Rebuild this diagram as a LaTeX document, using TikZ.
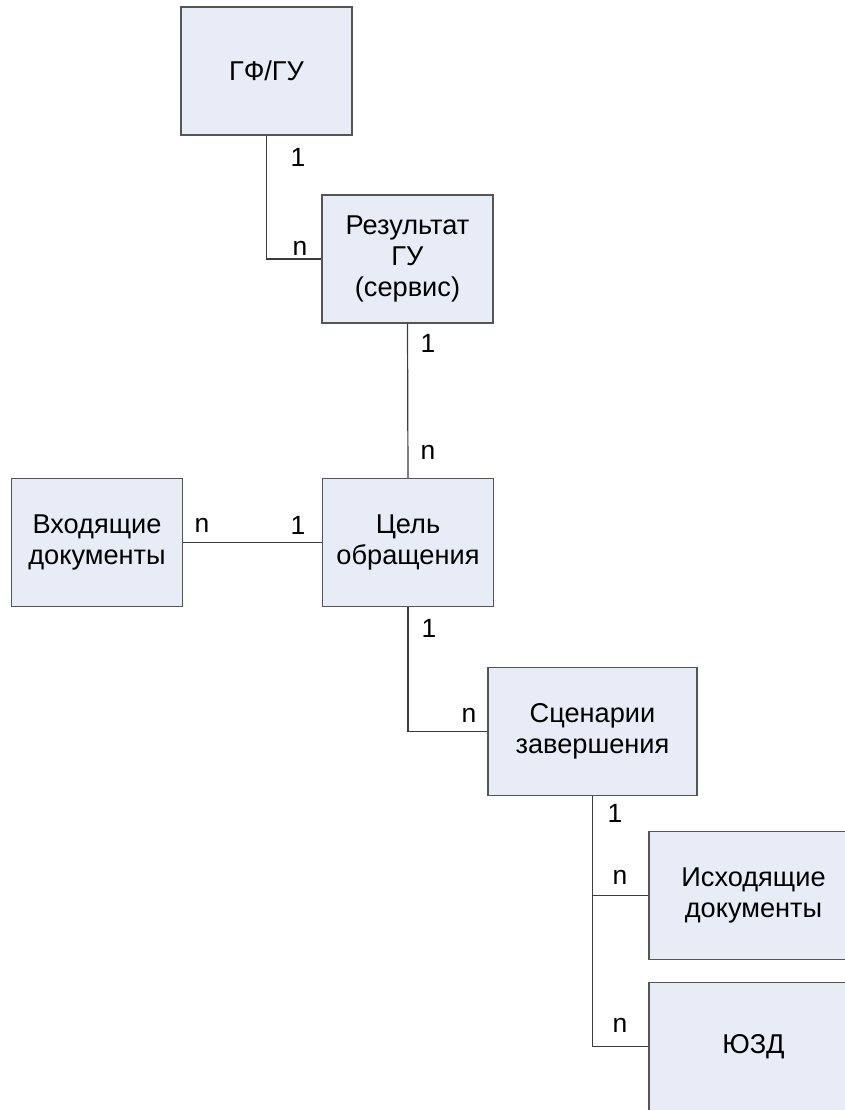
\documentclass[tikz,border=0pt]{standalone}
\usepackage{fontspec}
\setmainfont{Liberation Sans}
\definecolor{boxfill}{RGB}{231,236,246}
\definecolor{boxline}{RGB}{85,85,85}
\definecolor{linkline}{RGB}{60,60,60}

\begin{document}
\begin{tikzpicture}[x=0.5pt, y=-0.5pt,
	entity/.style={rectangle, draw=boxline, fill=boxfill, line width=0.6pt,
		minimum width=85.5pt, minimum height=64pt, align=center, inner sep=0pt,
		font=\fontsize{13.6}{15.5}\selectfont},
	wide/.style={entity, minimum width=104.5pt},
	card/.style={inner sep=0pt, font=\fontsize{13.2}{15}\selectfont},
	link/.style={draw=linkline, line width=0.6pt}]
		\fill[white] (0,0) rectangle (845,1110);
		\clip (0,0) rectangle (845,1110);

		\node[entity] (gfgu) at (266.5, 71) {ГФ/ГУ};
		\node[entity] (result) at (407.5, 259) {Результат\\ГУ\\(сервис)};
		\node[entity] (indocs) at (97, 542.5) {Входящие\\документы};
		\node[entity] (goal) at (408, 542.5) {Цель\\обращения};
		\node[wide] (finish) at (592.5, 731.5) {Сценарии\\завершения};
		\node[wide] (outdocs) at (753.5, 895.5) {Исходящие\\документы};
		\node[wide] (yuzd) at (753.5, 1046.5) {ЮЗД};

		\draw[link] (gfgu.south) |- (result.west);
		\draw[link] (result.south) -- (goal.north);
		\draw[link] (indocs.east) -- (goal.west);
		\draw[link] (goal.south) |- (finish.west);
		\draw[link] (finish.south) |- (outdocs.west);
		\draw[link] (finish.south) |- (yuzd.west);

		% кратности связей
		\node[card] (c1a) at (298, 157) {1};
		\node[card] (c1b) at (300, 248) {n};
		\node[card] (c2a) at (428, 343) {1};
		\node[card] (c2b) at (428, 452) {n};
		\node[card] (c3a) at (202, 525) {n};
		\node[card] (c3b) at (298, 525) {1};
		\node[card] (c4a) at (429, 628) {1};
		\node[card] (c4b) at (469, 715) {n};
		\node[card] (c5a) at (615, 813) {1};
		\node[card] (c5b) at (620, 877) {n};
		\node[card] (c5c) at (620, 1025) {n};
	\end{tikzpicture}
\end{document}
